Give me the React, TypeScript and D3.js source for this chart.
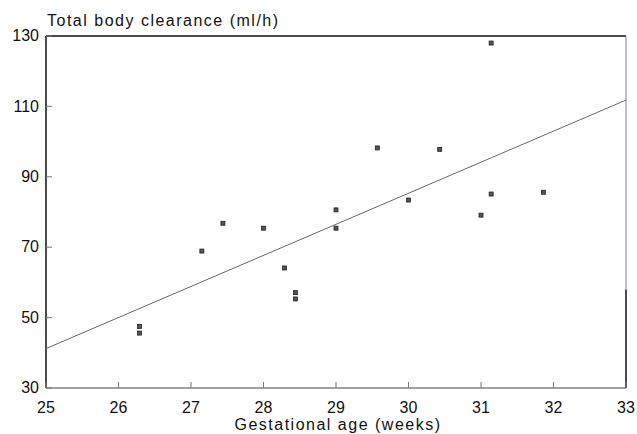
import React from "react";
import * as d3 from "d3";

// gestational age (weeks) and total body clearance (ml/h)
const ageWeeks = [26.29, 26.29, 27.15, 27.44, 28.0, 28.29, 28.44, 28.44, 29.0, 29.0, 29.57, 30.0, 30.43, 31.0, 31.14, 31.14, 31.86];
const clearance = [47.5, 45.6, 68.9, 76.8, 75.4, 64.1, 57.1, 55.3, 80.6, 75.4, 98.2, 83.4, 97.8, 79.1, 128.0, 85.1, 85.6];

// fitted regression line end points
const fitAges = [25, 33];
const fitValues = [41.2, 111.8];

const xTicks = [25, 26, 27, 28, 29, 30, 31, 32, 33];
const yTicks = [30, 50, 70, 90, 110, 130];

const W = 637;
const H = 434;
const margin = { left: 46, right: 11, top: 36, bottom: 46 };

export default function App() {
  const x = d3.scaleLinear().domain([25, 33]).range([margin.left, W - margin.right]);
  const y = d3.scaleLinear().domain([30, 130]).range([H - margin.bottom, margin.top]);

  const points = ageWeeks.map((a, i) => ({ a, c: clearance[i] }));
  const fitLine = d3.line<number>()
    .x((d) => x(d))
    .y((_, i) => y(fitValues[i]));

  const font = "'Liberation Sans', Arial, sans-serif";
  const [x0, x1] = x.range();
  const [yb, yt] = y.range();

  return (
    <svg width={W} height={H} style={{ position: "absolute", left: 0, top: 0 }} fontFamily={font}>
      <rect width={W} height={H} fill="#fff" />

      {/* frame */}
      <line x1={x0} x2={x1} y1={yt} y2={yt} stroke="#111" strokeWidth={1.5} />
      <line x1={x0} x2={x0} y1={yt} y2={yb} stroke="#111" strokeWidth={1.5} />
      <line x1={x0} x2={x1} y1={yb} y2={yb} stroke="#444" strokeWidth={1.2} />
      <line x1={x1} x2={x1} y1={yt} y2={y(58)} stroke="#999" strokeWidth={1.2} />
      <line x1={x1} x2={x1} y1={y(58)} y2={yb} stroke="#111" strokeWidth={1.5} />

      {/* y ticks */}
      {yTicks.map((t) => (
        <g key={"y" + t}>
          <line x1={x0} x2={x0 + 6} y1={y(t)} y2={y(t)} stroke="#777" strokeWidth={1} />
          <text x={x0 - 7} y={y(t)} dy="0.32em" textAnchor="end" fontSize={16} fill="#111">{t}</text>
        </g>
      ))}

      {/* x ticks */}
      {xTicks.map((t) => (
        <g key={"x" + t}>
          <line x1={x(t)} x2={x(t)} y1={yb} y2={yb - 6} stroke="#777" strokeWidth={1} />
          <text x={x(t)} y={yb + 25} textAnchor="middle" fontSize={16} fill="#111">{t}</text>
        </g>
      ))}

      {/* regression line */}
      <path d={fitLine(fitAges) || ""} fill="none" stroke="#666" strokeWidth={1} />

      {/* observations */}
      {points.map((p, i) => (
        <rect key={i} x={x(p.a) - 2} y={y(p.c) - 2} width={4} height={4} fill="#555" stroke="#222" strokeWidth={0.8} />
      ))}

      <text x={x0 + 1} y={26} fontSize={16} letterSpacing={1.5} fill="#111">Total body clearance (ml/h)</text>
      <text x={338} y={430} textAnchor="middle" fontSize={16} letterSpacing={1.5} fill="#111">Gestational age (weeks)</text>
    </svg>
  );
}
